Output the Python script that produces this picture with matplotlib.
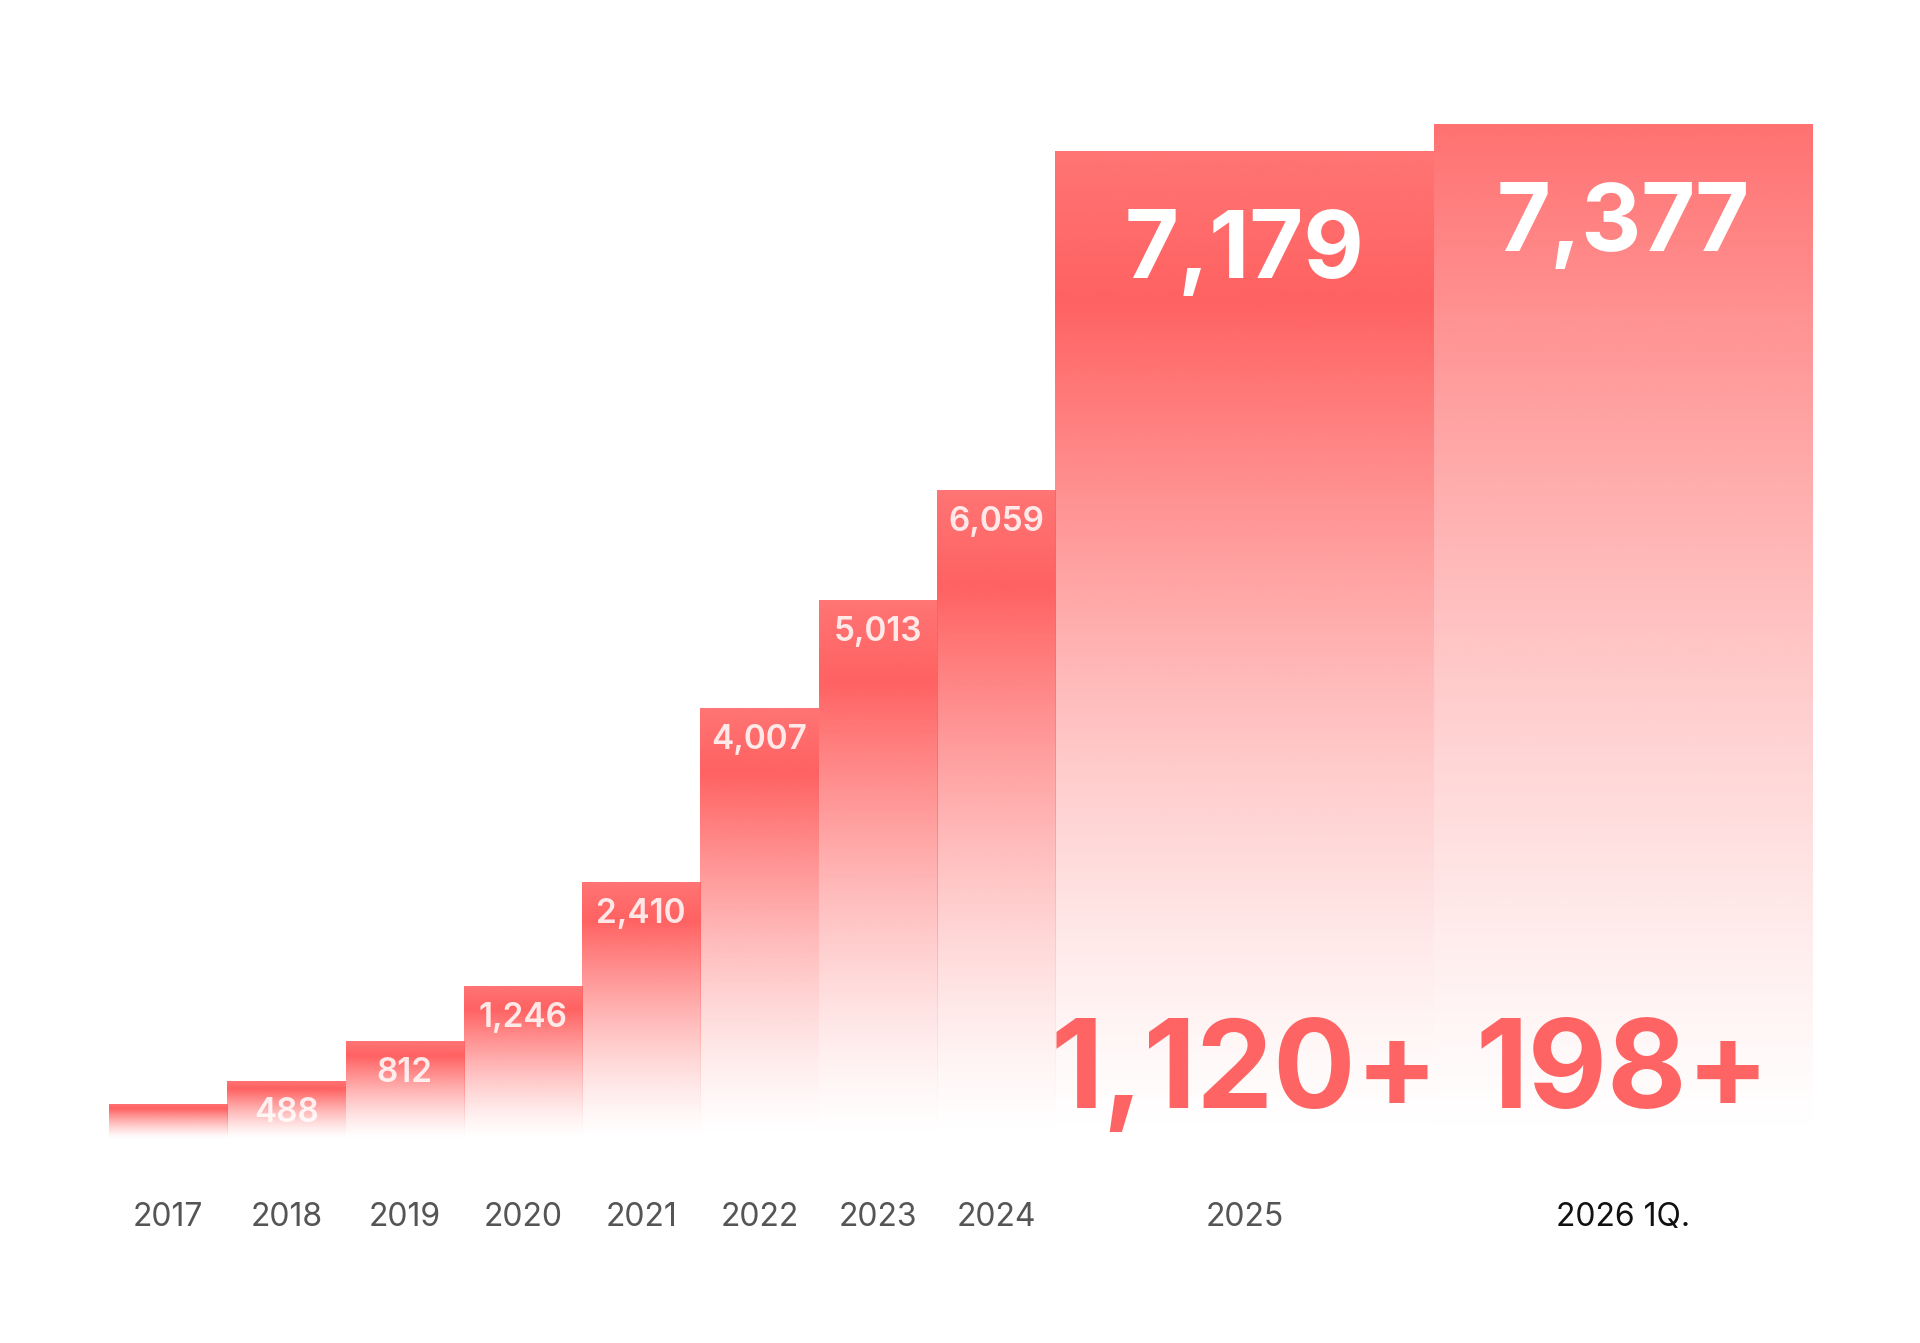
import numpy as np
import matplotlib
matplotlib.use("Agg")
import matplotlib.pyplot as plt
from matplotlib.colors import to_rgb

plt.rcParams['font.family'] = ['Inter', 'DejaVu Sans']

# ---- data ----
categories = ["2017", "2018", "2019", "2020", "2021", "2022", "2023", "2024", "2025", "2026 1Q."]
# drawn bar heights (chart units)
bar_heights = [330, 540, 910, 1420, 2390, 4010, 5010, 6040, 9190, 9440]
# value labels shown on the bars (None = no label)
bar_labels = [None, 488, 812, 1246, 2410, 4007, 5013, 6059, 7179, 7377]
# additional highlighted numbers in the two wide bars
extra_labels = [None, None, None, None, None, None, None, None, 1120, 198]

# ---- style ----
bar_widths = [1, 1, 1, 1, 1, 1, 1, 1, 3.2, 3.2]
base_color = np.array(to_rgb("#FF6161"))
big_red = "#FF6464"

W, H = 1920, 1343
fig = plt.figure(figsize=(W / 100, H / 100), dpi=100)
fig.patch.set_facecolor("white")
x_left_px, x_right_px = 109, 1812
base_px, top_px = 1139, 64
ax = fig.add_axes([x_left_px / W, (H - base_px) / H,
                   (x_right_px - x_left_px) / W, (base_px - top_px) / H])

lefts = np.concatenate([[0], np.cumsum(bar_widths)[:-1]])
centers = lefts + np.array(bar_widths) / 2
bars = ax.bar(lefts, bar_heights, width=bar_widths, align='edge',
              color='none', edgecolor='none')


def alpha_profile(n, last=False):
    s = np.linspace(1, 0, n)  # fraction from top (image rows bottom->top)
    if last:
        a = 0.9 * (1 - s) ** 1.25
    else:
        a = np.where(s < 0.15, 0.88 + 0.12 * (s / 0.15),
                     ((1 - s) / 0.85).clip(0, 1) ** 1.35)
    return a


for i, p in enumerate(bars):
    n = 400
    a = alpha_profile(n, last=(i == len(bars) - 1))
    img = np.zeros((n, 1, 4))
    img[:, 0, :3] = base_color
    img[:, 0, 3] = a
    x0 = p.get_x()
    x1 = x0 + p.get_width()
    h = p.get_height()
    im = ax.imshow(img, extent=[x0, x1, 0, h], origin='lower', aspect='auto',
                   interpolation='bilinear', zorder=1)
    im.set_clip_path(p)

ax.set_xlim(0, sum(bar_widths))
ax.set_ylim(0, 10000)

# labels
for i, (c, h, v) in enumerate(zip(centers, bar_heights, bar_labels)):
    if v is None:
        continue
    if bar_widths[i] > 1:
        ax.annotate(f"{v:,}", xy=(c, h), xytext=(0, -127), textcoords='offset pixels',
                    ha='center', va='baseline', fontsize=67, fontweight='bold',
                    color='white', zorder=3)
    else:
        ax.annotate(f"{v:,}", xy=(c, h), xytext=(0, -41), textcoords='offset pixels',
                    ha='center', va='baseline', fontsize=24, fontweight='semibold',
                    color=(1, 1, 1, 0.85), zorder=3)

for c, v in zip(centers, extra_labels):
    if v is None:
        continue
    ax.annotate(f"{v:,}+", xy=(c, 0), xytext=(0, 31), textcoords='offset pixels',
                ha='center', va='baseline', fontsize=88, fontweight='bold',
                color=big_red, zorder=3)

ax.set_xticks(centers)
ax.set_xticklabels(categories, fontsize=23, color="#555555")
ax.get_xticklabels()[-1].set_color("#111111")
ax.tick_params(axis='x', length=0, pad=45)
ax.set_yticks([])
for s in ax.spines.values():
    s.set_visible(False)
ax.patch.set_alpha(0)

fig.savefig("out.png", dpi=100, facecolor="white")
